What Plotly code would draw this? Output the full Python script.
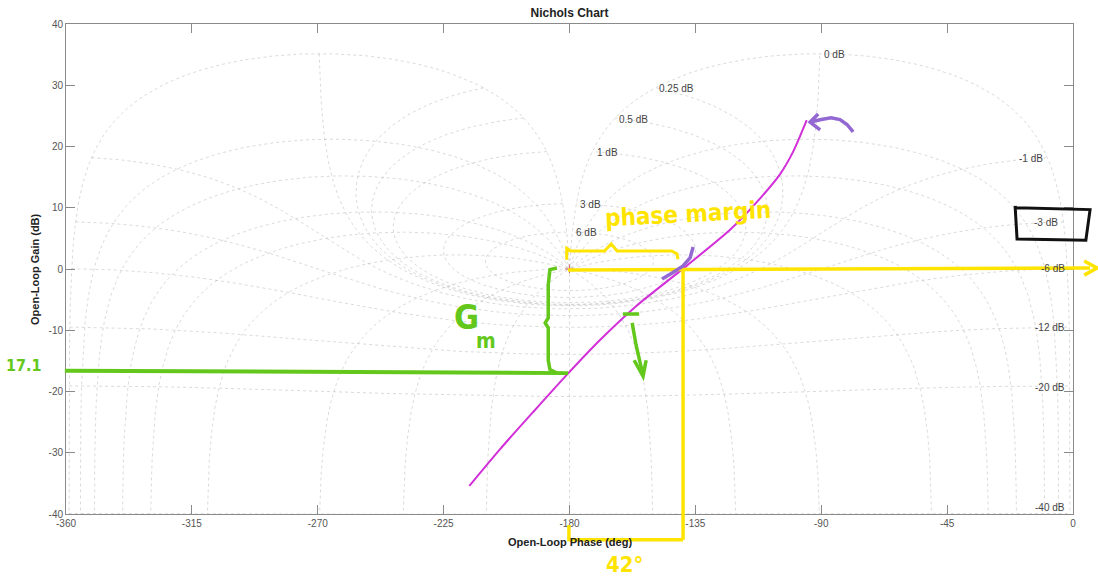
import numpy as np
import plotly.graph_objects as go

# ---------------- data ----------------
# open-loop frequency response (phase in deg, gain in dB)
ol_phase = [-215.8, -204.8, -192.9, -180.4, -169.1, -156.0, -139.3, -122.6, -112.9, -104.7, -100.0, -95.2]
ol_gain = [-35.4, -29.4, -23.3, -17.0, -11.6, -6.0, 0.1, 6.4, 11.0, 15.5, 19.2, 24.3]

# Nichols grid: closed-loop magnitude contours (dB) and closed-loop phase contours (deg)
m_contours_db = [6, 3, 1, 0.5, 0.25, 0, -1, -3, -6, -12, -20, -40]
n_contours_deg = [-1, -5, -10, -20, -30, -50, -90, -120, -150, -180,
                  -210, -240, -270, -310, -330, -340, -350, -355, -359]

pos_label_text = ["6 dB", "3 dB", "1 dB", "0.5 dB", "0.25 dB", "0 dB"]
pos_label_phase = [-178.4, -176.9, -170.9, -163.0, -148.7, -89.7]
pos_label_gain = [5.93, 10.56, 19.05, 24.4, 29.4, 35.1]
neg_label_text = ["-1 dB", "-3 dB", "-6 dB", "-12 dB", "-20 dB", "-40 dB"]
neg_label_phase = [-10.0, -4.6, -2.1, -2.1, -2.1, -2.1]
neg_label_gain = [18.1, 7.67, 0.16, -9.6, -19.3, -39.0]

x_ticks = list(range(-360, 1, 45))
x_tick_text = [str(v) for v in x_ticks]
y_ticks = list(range(-40, 41, 10))
y_tick_text = [str(v) for v in y_ticks]

X_RANGE = [-360, 0]
Y_RANGE = [-40, 40]

# gain margin / phase margin hand annotations (values written on the picture)
gm_value_text = "17.1"
pm_value_text = "42°"

# ---------------- grid computation ----------------
gx, gy = [], []
psi = np.radians(np.linspace(-359, -1, 1999))
for mdb in m_contours_db:
    m = 10 ** (mdb / 20)
    T = m * np.exp(1j * psi)
    L = T / (1 - T)
    ph = np.degrees(np.unwrap(np.angle(L)))
    mid = len(ph) // 2
    ph = ph + 360 * np.round((-180 - ph[mid]) / 360)
    g = 20 * np.log10(np.abs(L))
    gx += list(ph) + [None]
    gy += list(g) + [None]

mm = np.logspace(-3, 3, 4000)
for pd in n_contours_deg:
    T = mm * np.exp(1j * np.radians(pd))
    L = T / (1 - T)
    ph = np.degrees(np.unwrap(np.angle(L)))
    ph = ph + 360 * np.round((pd - ph[0]) / 360)
    g = 20 * np.log10(np.abs(L))
    gx += list(ph) + [None]
    gy += list(g) + [None]

fig = go.Figure()
fig.add_trace(go.Scatter(x=gx, y=gy, mode="lines", hoverinfo="skip",
                         line=dict(color="rgba(140,140,140,0.32)", width=1, dash="dot"),
                         showlegend=False))
fig.add_trace(go.Scatter(x=[-180], y=[0], mode="markers", hoverinfo="skip",
                         marker=dict(symbol="cross-thin", size=6, line=dict(color="#e06060", width=1)),
                         showlegend=False))
fig.add_trace(go.Scatter(x=ol_phase, y=ol_gain, mode="lines",
                         line=dict(color="#D22FD8", width=2, shape="spline", smoothing=0.7),
                         showlegend=False))

annotations = []
for t, p, g in zip(pos_label_text, pos_label_phase, pos_label_gain):
    annotations.append(dict(x=p, y=g, xref="x", yref="y", text=t, showarrow=False,
                            xanchor="left", yanchor="middle",
                            font=dict(size=10, color="#444", family="Liberation Sans, Arial, sans-serif")))
for t, p, g in zip(neg_label_text, neg_label_phase, neg_label_gain):
    annotations.append(dict(x=p, y=g, xref="x", yref="y", text=t, showarrow=False,
                            xanchor="right", yanchor="middle",
                            font=dict(size=10, color="#444", family="Liberation Sans, Arial, sans-serif")))


# ---------------- hand-drawn overlay (in chart units, drawn unclipped) ----------------
def to_paper(ph, g):
    return ((ph - X_RANGE[0]) / (X_RANGE[1] - X_RANGE[0]),
            (g - Y_RANGE[0]) / (Y_RANGE[1] - Y_RANGE[0]))


shapes = []


def stroke(points, color, width=3.5):
    pts = [to_paper(p, g) for p, g in points]
    path = "M " + " L ".join(f"{x:.5f},{y:.5f}" for x, y in pts)
    shapes.append(dict(type="path", path=path, xref="paper", yref="paper",
                       line=dict(color=color, width=width), layer="above"))


def hand_text(text, ph, g, color, size, angle=0):
    x, y = to_paper(ph, g)
    annotations.append(dict(x=x, y=y, xref="paper", yref="paper", text=text, showarrow=False,
                            xanchor="center", yanchor="middle", textangle=angle,
                            font=dict(size=size, color=color,
                                      family="Liberation Sans Narrow, DejaVu Sans Condensed, Liberation Sans, sans-serif")))


YEL = "#FFE400"
GRN = "#63C81B"
PUR = "#9468D2"

# yellow: 0 dB line with arrow, phase-margin vertical, braces
stroke([(-180.5, -0.16), (6.1, 0.16)], YEL)
stroke([(4.0, 1.3), (8.6, 0.16), (4.0, -1.0)], YEL)
stroke([(-139.4, 0.1), (-139.4, -44.2)], YEL)
stroke([(-180.2, -41.8), (-180.2, -44.2), (-139.4, -44.2)], YEL)
stroke([(-181.0, 1.5), (-181.0, 3.4), (-179.5, 2.95), (-167.5, 2.95), (-165.1, 4.1),
        (-163.0, 2.95), (-143.5, 2.95), (-141.6, 2.5), (-141.2, 1.6)], YEL, 3)
hand_text("<b>phase margin</b>", -137.6, 8.9, YEL, 24, -3)
hand_text("<b>" + pm_value_text + "</b>", -160.5, -48.2, YEL, 22)

# green: gain-margin line, brace, G_m label, small arrow
stroke([(-360.4, -16.6), (-180.5, -17.0)], GRN, 4)
stroke([(-184.5, 0.16), (-187.0, -0.1), (-187.6, -2.6), (-187.6, -8.0), (-188.7, -8.8),
        (-187.6, -9.6), (-187.6, -14.9), (-187.0, -16.4), (-184.5, -17.0)], GRN, 3.5)
hand_text("<b>" + gm_value_text + "</b>", -375.0, -15.8, GRN, 16)
hand_text("<b>G</b>", -217.0, -7.8, GRN, 34)
hand_text("<b>m</b>", -209.8, -11.8, GRN, 21)
stroke([(-160.9, -7.35), (-155.1, -7.35)], GRN, 3.5)
stroke([(-157.6, -8.8), (-156.2, -12.4), (-154.8, -15.2), (-153.7, -17.3)], GRN, 3.5)
stroke([(-156.9, -14.9), (-153.7, -17.5), (-152.6, -14.9)], GRN, 3.5)

# purple: crossing tick and arrow to curve end
stroke([(-146.9, -1.63), (-143.3, -0.65), (-139.4, 0.49), (-136.9, 1.8), (-135.8, 3.6)], PUR, 3.5)
stroke([(-78.6, 22.4), (-80.8, 23.6), (-83.3, 24.4), (-86.5, 24.7), (-90.0, 24.4), (-94.0, 24.0)], PUR, 3.5)
stroke([(-91.1, 25.3), (-94.0, 24.0), (-90.4, 22.7)], PUR, 3.5)

# black box around the -3 dB label
stroke([(-20.7, 10.0), (6.1, 9.7), (4.6, 4.7), (-20.0, 4.9), (-20.7, 10.3)], "#111111", 3)

# axis titles
annotations.append(dict(x=0.5, y=-0.057, xref="paper", yref="paper", showarrow=False,
                        text="<b>Open-Loop Phase (deg)</b>", xanchor="center", yanchor="middle",
                        font=dict(size=11, color="#222", family="Liberation Sans, Arial, sans-serif")))
annotations.append(dict(x=-0.0308, y=0.5, xref="paper", yref="paper", showarrow=False,
                        text="<b>Open-Loop Gain (dB)</b>", textangle=-90, xanchor="center", yanchor="middle",
                        font=dict(size=11, color="#222", family="Liberation Sans, Arial, sans-serif")))

axis_common = dict(showgrid=False, zeroline=False, showline=True, linecolor="#8a8a8a", linewidth=1,
                   mirror="ticks", ticks="inside", ticklen=9, tickcolor="#8a8a8a",
                   tickfont=dict(size=10, color="#555", family="Liberation Sans, Arial, sans-serif"))

fig.update_layout(
    width=1098, height=579,
    margin=dict(l=66, r=25, t=24, b=65),
    paper_bgcolor="white", plot_bgcolor="white",
    title=dict(text="<b>Nichols Chart</b>", x=0.5, xref="paper", xanchor="center",
               y=1 - 13 / 579, yref="container", yanchor="middle",
               font=dict(size=12, color="#222", family="Liberation Sans, Arial, sans-serif")),
    xaxis=dict(range=X_RANGE, tickvals=x_ticks, ticktext=x_tick_text, **axis_common),
    yaxis=dict(range=Y_RANGE, tickvals=y_ticks, ticktext=y_tick_text, **axis_common),
    annotations=annotations,
    shapes=shapes,
)

fig.write_html("out.html", config={"displayModeBar": False},
               post_script="document.body.style.margin='0';document.body.style.overflow='hidden';")
